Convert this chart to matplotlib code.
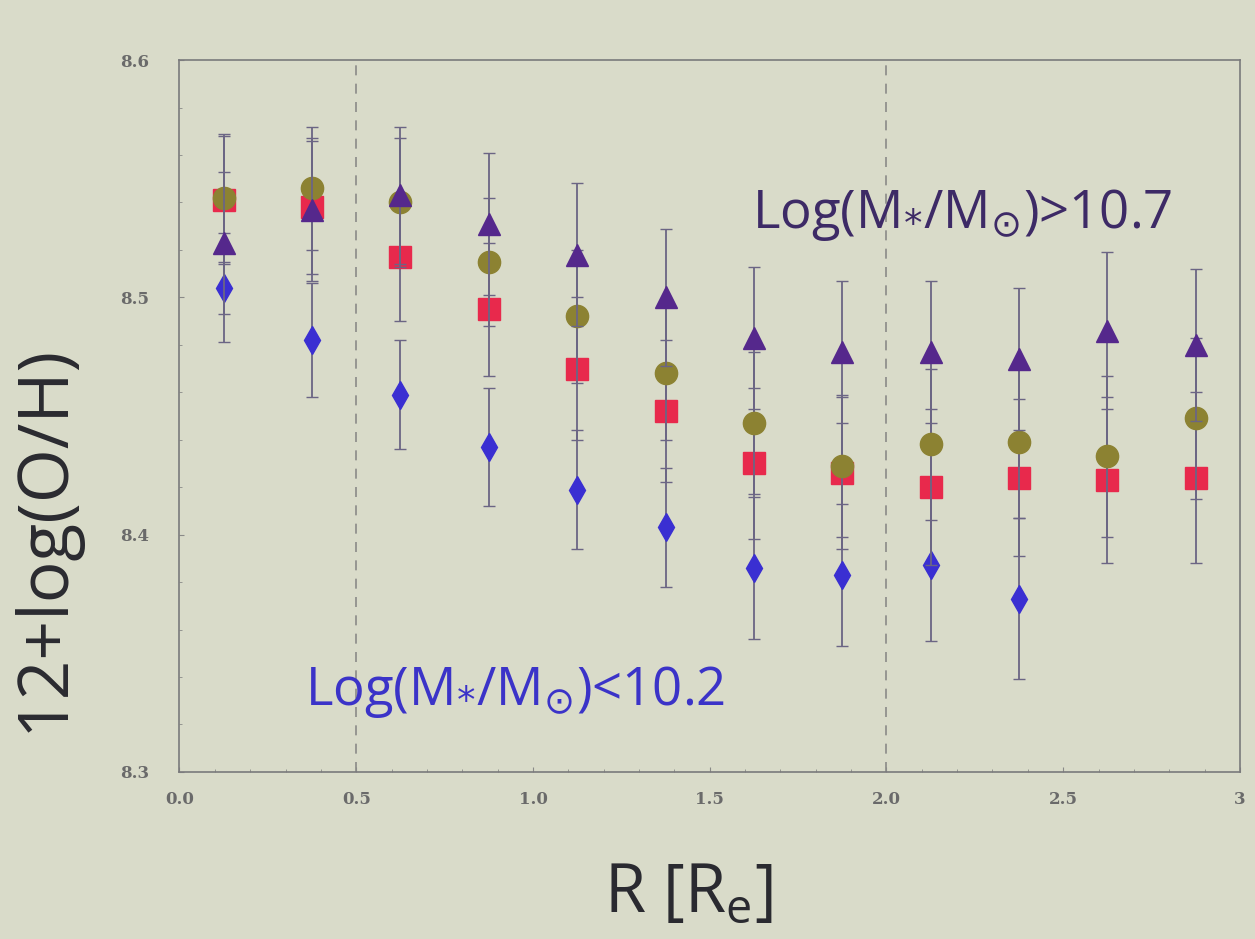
import matplotlib.pyplot as plt

# radial bins (R / Re)
r_bins = [0.125, 0.375, 0.625, 0.875, 1.125, 1.375, 1.625, 1.875, 2.125, 2.375, 2.625, 2.875]

# 12+log(O/H) per mass bin
oh_high = [8.523, 8.537, 8.543, 8.531, 8.518, 8.500, 8.483, 8.477, 8.477, 8.474, 8.486, 8.480]
err_high = [0.030, 0.030, 0.029, 0.030, 0.030, 0.029, 0.030, 0.030, 0.030, 0.030, 0.033, 0.032]

oh_mid2 = [8.542, 8.546, 8.540, 8.515, 8.492, 8.468, 8.447, 8.429, 8.438, 8.439, 8.433, 8.449]
err_mid2 = [0.027, 0.026, 0.027, 0.027, 0.028, 0.028, 0.030, 0.030, 0.032, 0.032, 0.034, 0.034]

oh_mid1 = [8.541, 8.538, 8.517, 8.495, 8.470, 8.452, 8.430, 8.426, 8.420, 8.424, 8.423, 8.424]
err_mid1 = [0.027, 0.028, 0.027, 0.028, 0.030, 0.030, 0.032, 0.032, 0.033, 0.033, 0.035, 0.036]

r_low = [0.125, 0.375, 0.625, 0.875, 1.125, 1.375, 1.625, 1.875, 2.125, 2.375]
oh_low = [8.504, 8.482, 8.459, 8.437, 8.419, 8.403, 8.386, 8.383, 8.387, 8.373]
err_low = [0.023, 0.024, 0.023, 0.025, 0.025, 0.025, 0.030, 0.030, 0.032, 0.034]

xticks = [0.0, 0.5, 1.0, 1.5, 2.0, 2.5, 3.0]
xtick_labels = ["0.0", "0.5", "1.0", "1.5", "2.0", "2.5", "3"]
yticks = [8.3, 8.4, 8.5, 8.6]
ytick_labels = ["8.3", "8.4", "8.5", "8.6"]

bg = "#d9dbc9"
err_col = "#6b6584"

fig = plt.figure(figsize=(12.55, 9.39), dpi=100, facecolor=bg)
ax = fig.add_axes([0.143, 0.178, 0.845, 0.758], facecolor=bg)

for x in (0.5, 2.0):
    ax.axvline(x, color="#8a8a88", linestyle=(0, (6, 5)), linewidth=1.2, zorder=1)

ax.errorbar(r_low, oh_low, yerr=err_low, fmt="d", color="#3a2fd2", markersize=14,
            ecolor=err_col, elinewidth=1.3, capsize=4, zorder=3)
ax.errorbar(r_bins, oh_mid1, yerr=err_mid1, fmt="s", color="#e8294c", markersize=16,
            ecolor=err_col, elinewidth=1.3, capsize=4, zorder=4)
ax.errorbar(r_bins, oh_mid2, yerr=err_mid2, fmt="o", color="#8c8232", markersize=16,
            ecolor=err_col, elinewidth=1.3, capsize=4, zorder=5)
ax.errorbar(r_bins, oh_high, yerr=err_high, fmt="^", color="#55288c", markersize=16,
            ecolor=err_col, elinewidth=1.3, capsize=4, zorder=6)

ax.set_xlim(0, 3)
ax.set_ylim(8.3, 8.6)
ax.set_xticks(xticks)
ax.set_xticklabels(xtick_labels)
ax.set_yticks(yticks)
ax.set_yticklabels(ytick_labels)
ax.minorticks_on()
ax.tick_params(which="both", direction="in", colors="#8a8a88", labelcolor="#6a6a6a",
               labelsize=12)
ax.tick_params(axis="x", pad=14)
ax.tick_params(axis="y", pad=22)
for lab in ax.get_xticklabels() + ax.get_yticklabels():
    lab.set_family("DejaVu Serif")
    lab.set_fontweight("bold")
for s in ax.spines.values():
    s.set_color("#7a7a7c")
    s.set_linewidth(1.2)

ax.text(0.54, 0.764, r"Log(M$_{*}$/M$_{\odot}$)>10.7", transform=ax.transAxes,
        fontsize=38, color="#3d2a66", family="Open Sans")
ax.text(0.118, 0.094, r"Log(M$_{*}$/M$_{\odot}$)<10.2", transform=ax.transAxes,
        fontsize=38, color="#3b33c8", family="Open Sans")

ax.set_ylabel("12+log(O/H)", fontsize=50, color="#2a2a30", family="Open Sans")
ax.yaxis.set_label_coords(-0.094, 0.329)
ax.set_xlabel(r"R [R$_\mathregular{e}$]", fontsize=48, color="#2a2a30", family="Open Sans")
ax.xaxis.set_label_coords(0.48, -0.125)

fig.savefig("out.png", dpi=100, facecolor=bg)
